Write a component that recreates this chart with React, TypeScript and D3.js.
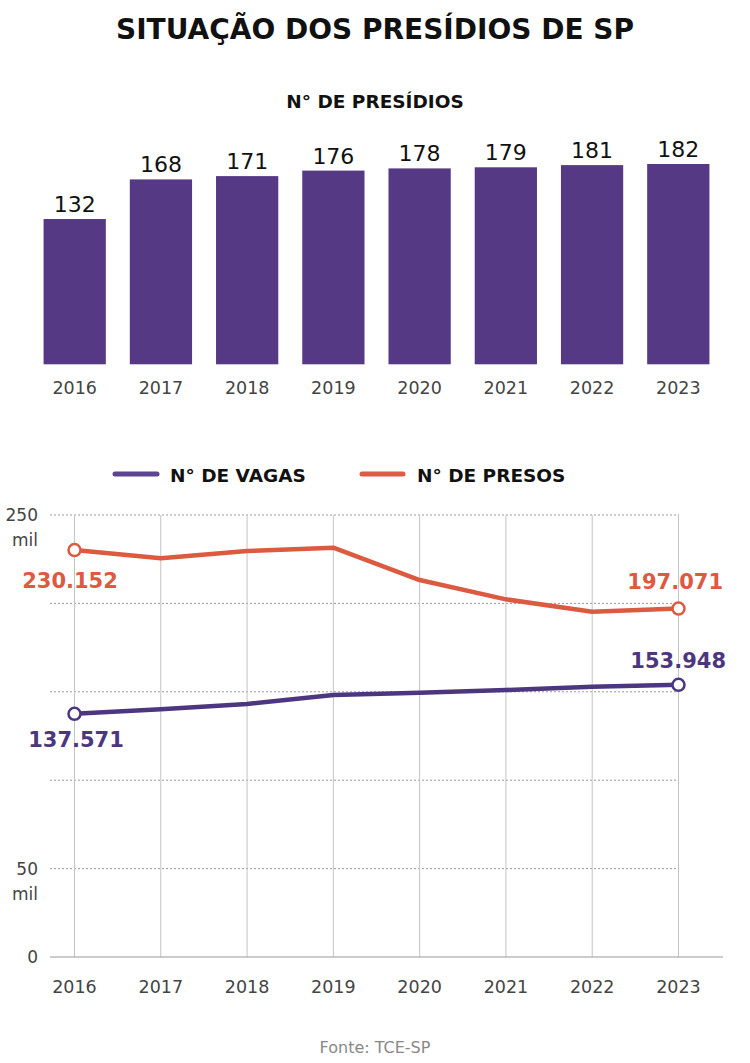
import React from "react";
import * as d3 from "d3";

const years = ["2016", "2017", "2018", "2019", "2020", "2021", "2022", "2023"];
const presidios = [132, 168, 171, 176, 178, 179, 181, 182];
const vagas = [137571, 140100, 143100, 148200, 149500, 151000, 152900, 153948];
const presos = [230152, 225500, 229600, 231500, 213200, 202300, 195300, 197071];
const yTicks = [0, 50000, 100000, 150000, 200000, 250000];
const yLabelTicks = [0, 50000, 250000];

const PURPLE_BAR = "#563984";
const PURPLE = "#4d3680";
const ORANGE = "#db5a40";
const FONT = "'DejaVu Sans', sans-serif";

const fmt = (v: number) => d3.format(",")(v).replace(/,/g, ".");

export default function App() {
  const W = 750;
  const H = 1063;

  // bar chart scales
  const xBar = d3.scaleBand<string>().domain(years).range([31.5, 721.5]).paddingInner(0.278).paddingOuter(0.14);
  const yBar = d3.scaleLinear().domain([0, 182]).range([364.3, 164]);

  // line chart scales
  const xLine = d3.scalePoint<string>().domain(years).range([74.5, 678.5]);
  const yLine = d3.scaleLinear().domain([0, 250000]).range([957, 515]);

  const line = d3
    .line<number>()
    .x((_, i) => xLine(years[i]) as number)
    .y((d) => yLine(d));

  const last = years.length - 1;

  return (
    <svg width={W} height={H} style={{ position: "absolute", left: 0, top: 0, background: "#fff" }} fontFamily={FONT}>
      <rect x={0} y={0} width={W} height={H} fill="#fff" />
      <text x={375} y={39} textAnchor="middle" fontSize={28} fontWeight="bold" fill="#111">
        SITUAÇÃO DOS PRESÍDIOS DE SP
      </text>
      <text x={375} y={108} textAnchor="middle" fontSize={18.5} fontWeight="bold" fill="#111">
        N° DE PRESÍDIOS
      </text>

      {/* bars */}
      {presidios.map((v, i) => {
        const x = xBar(years[i]) as number;
        const bw = xBar.bandwidth();
        return (
          <g key={years[i]}>
            <rect x={x} y={yBar(v)} width={bw} height={yBar(0) - yBar(v)} fill={PURPLE_BAR} />
            <text x={x + bw / 2} y={yBar(v) - 7} textAnchor="middle" fontSize={22} fill="#111">
              {v}
            </text>
            <text x={x + bw / 2} y={394} textAnchor="middle" fontSize={17.5} fill="#444">
              {years[i]}
            </text>
          </g>
        );
      })}

      {/* legend */}
      <line x1={115} x2={157} y1={474} y2={474} stroke="#5c4591" strokeWidth={5} strokeLinecap="round" />
      <text x={170} y={482} fontSize={18.5} fontWeight="bold" fill="#111">
        N° DE VAGAS
      </text>
      <line x1={362} x2={403} y1={474} y2={474} stroke="#de5b45" strokeWidth={5} strokeLinecap="round" />
      <text x={417} y={482} fontSize={18.5} fontWeight="bold" fill="#111">
        N° DE PRESOS
      </text>

      {/* horizontal grid */}
      {yTicks
        .filter((t) => t > 0)
        .map((t) => (
          <line key={t} x1={50} x2={679} y1={yLine(t)} y2={yLine(t)} stroke="#999" strokeWidth={1} strokeDasharray="2,2" />
        ))}
      {/* vertical grid */}
      {years.map((y) => (
        <line key={y} x1={xLine(y)} x2={xLine(y)} y1={yLine(250000)} y2={yLine(0)} stroke="#c4c4c4" strokeWidth={1} />
      ))}
      <line x1={50} x2={723} y1={yLine(0)} y2={yLine(0)} stroke="#999" strokeWidth={1.2} />

      {/* y labels */}
      {yLabelTicks.map((t) => (
        <g key={t}>
          <text x={38} y={yLine(t) + 6} textAnchor="end" fontSize={17} fill="#444">
            {t / 1000}
          </text>
          {t > 0 && (
            <text x={38} y={yLine(t) + 31} textAnchor="end" fontSize={17} fill="#444">
              mil
            </text>
          )}
        </g>
      ))}

      {/* x labels */}
      {years.map((y) => (
        <text key={y} x={xLine(y)} y={993} textAnchor="middle" fontSize={17.5} fill="#444">
          {y}
        </text>
      ))}

      {/* lines */}
      <path d={line(presos) || ""} fill="none" stroke={ORANGE} strokeWidth={4.5} strokeLinejoin="round" />
      <path d={line(vagas) || ""} fill="none" stroke={PURPLE} strokeWidth={4.5} strokeLinejoin="round" />

      {/* markers */}
      {[0, last].map((i) => (
        <g key={i}>
          <circle cx={xLine(years[i])} cy={yLine(presos[i])} r={6} fill="#fff" stroke={ORANGE} strokeWidth={2.5} />
          <circle cx={xLine(years[i])} cy={yLine(vagas[i])} r={6} fill="#fff" stroke={PURPLE} strokeWidth={2.5} />
        </g>
      ))}

      {/* value labels */}
      <text x={70} y={588} textAnchor="middle" fontSize={21} fontWeight="bold" fill={ORANGE}>
        {fmt(presos[0])}
      </text>
      <text x={76} y={747} textAnchor="middle" fontSize={21} fontWeight="bold" fill={PURPLE}>
        {fmt(vagas[0])}
      </text>
      <text x={723} y={589} textAnchor="end" fontSize={21} fontWeight="bold" fill={ORANGE}>
        {fmt(presos[last])}
      </text>
      <text x={726} y={668} textAnchor="end" fontSize={21} fontWeight="bold" fill={PURPLE}>
        {fmt(vagas[last])}
      </text>

      <text x={375} y={1053} textAnchor="middle" fontSize={16} fill="#888">
        Fonte: TCE-SP
      </text>
    </svg>
  );
}
